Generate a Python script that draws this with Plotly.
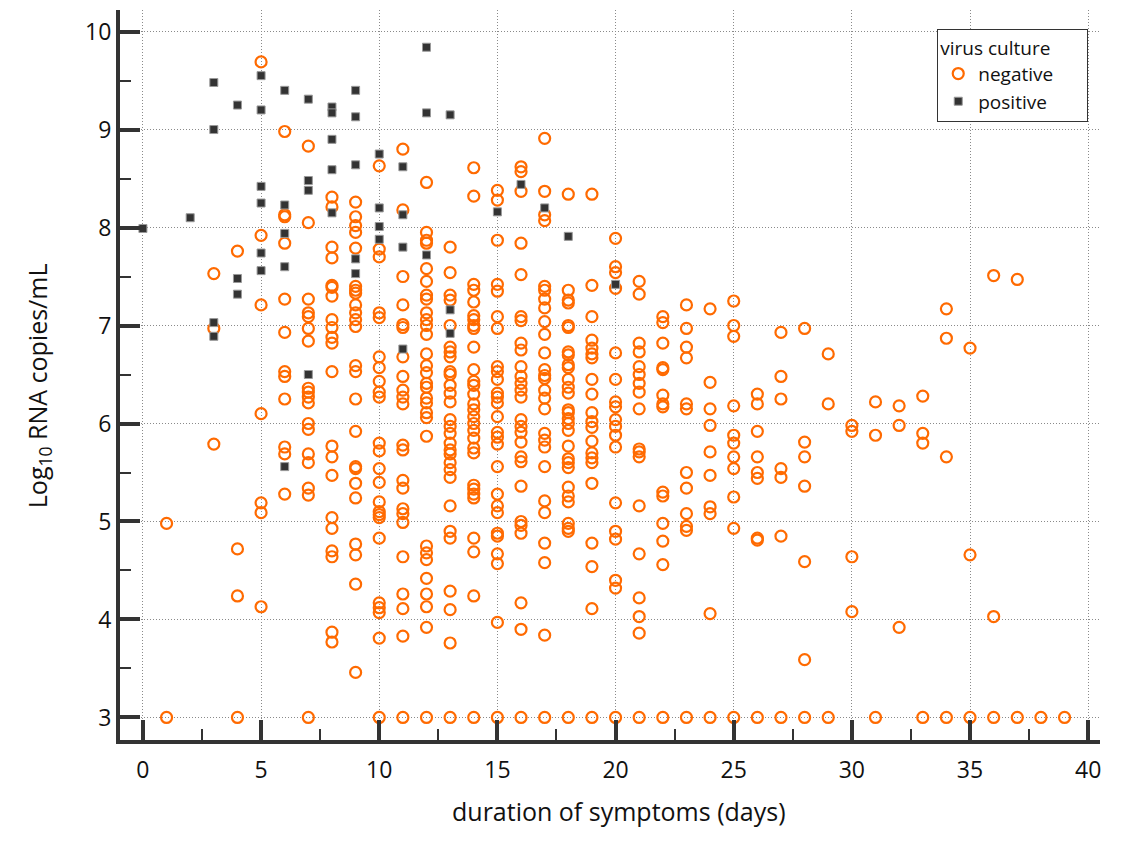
import plotly.graph_objects as go

# ---- data: negative virus culture (day, list of log10 RNA copies/mL) ----
neg_days = [1, 3, 4, 5, 6, 7, 8, 9, 10, 11, 12, 13, 14, 15, 16, 17, 18, 19, 20,
            21, 22, 23, 24, 25, 26, 27, 28, 29, 30, 31, 32, 33, 34, 35, 36, 37, 38, 39]
neg_values = [
    [4.98, 3.0],
    [7.53, 6.97, 5.79],
    [7.76, 4.72, 4.24, 3.0],
    [9.69, 7.92, 7.21, 6.10, 5.19, 5.09, 4.13],
    [8.98, 8.13, 8.11, 7.84, 7.27, 6.93, 6.53, 6.48, 6.25, 5.76, 5.69, 5.28],
    [8.83, 8.05, 7.27, 7.13, 7.09, 6.97, 6.84, 6.36, 6.32, 6.27, 6.21, 6.00, 5.94, 5.69, 5.60, 5.34, 5.27, 3.0],
    [8.31, 8.21, 7.80, 7.69, 7.41, 7.39, 7.30, 7.06, 6.98, 6.88, 6.82, 6.53, 5.77, 5.66, 5.47, 5.04, 4.93, 4.70, 4.64, 3.87, 3.77],
    [8.26, 8.11, 8.02, 7.95, 7.79, 7.40, 7.36, 7.33, 7.21, 7.13, 7.06, 6.99, 6.59, 6.53, 6.25, 5.92, 5.56, 5.54, 5.39, 5.24, 4.77, 4.66, 4.36, 3.46],
    [8.63, 7.78, 7.70, 7.13, 7.08, 6.68, 6.57, 6.43, 6.32, 6.27, 5.80, 5.72, 5.54, 5.40, 5.20, 5.10, 5.07, 5.04, 4.83, 4.17, 4.12, 4.07, 3.81, 3.0],
    [8.80, 8.18, 7.50, 7.21, 7.01, 6.98, 6.68, 6.48, 6.34, 6.27, 6.20, 5.78, 5.73, 5.42, 5.34, 5.13, 5.08, 4.99, 4.64, 4.26, 4.11, 3.83, 3.0],
    [8.46, 7.95, 7.87, 7.84, 7.58, 7.45, 7.31, 7.27, 7.13, 7.06, 7.00, 6.91, 6.71, 6.59, 6.52, 6.41, 6.37, 6.26, 6.21, 6.11, 6.06, 5.87, 4.75, 4.68, 4.61, 4.42, 4.26, 4.13, 3.92, 3.0],
    [7.80, 7.54, 7.31, 7.26, 7.00, 6.78, 6.73, 6.68, 6.53, 6.50, 6.39, 6.31, 6.22, 6.04, 5.97, 5.90, 5.80, 5.73, 5.69, 5.60, 5.53, 5.45, 5.16, 4.90, 4.83, 4.29, 4.10, 3.76, 3.0],
    [8.61, 8.32, 7.42, 7.36, 7.24, 7.10, 7.06, 7.00, 6.97, 6.78, 6.55, 6.43, 6.39, 6.30, 6.20, 6.14, 6.07, 6.00, 5.93, 5.85, 5.75, 5.70, 5.37, 5.33, 5.28, 5.24, 4.83, 4.69, 4.24, 3.0],
    [8.38, 8.28, 7.87, 7.42, 7.35, 7.09, 6.97, 6.58, 6.53, 6.45, 6.31, 6.27, 6.21, 6.07, 5.91, 5.86, 5.79, 5.56, 5.28, 5.16, 5.09, 4.88, 4.85, 4.67, 4.57, 3.97, 3.0],
    [8.62, 8.57, 8.37, 7.84, 7.52, 7.09, 7.05, 6.82, 6.75, 6.58, 6.48, 6.41, 6.34, 6.27, 6.04, 5.97, 5.91, 5.81, 5.66, 5.61, 5.36, 5.00, 4.96, 4.88, 4.17, 3.90, 3.0],
    [8.91, 8.37, 8.13, 8.07, 7.40, 7.36, 7.27, 7.18, 7.04, 6.91, 6.72, 6.55, 6.49, 6.46, 6.34, 6.26, 6.15, 5.90, 5.83, 5.76, 5.56, 5.21, 5.09, 4.78, 4.58, 3.84, 3.0],
    [8.34, 7.36, 7.26, 7.23, 7.00, 6.98, 6.73, 6.70, 6.60, 6.57, 6.45, 6.37, 6.31, 6.14, 6.11, 6.05, 6.00, 5.93, 5.77, 5.64, 5.60, 5.55, 5.35, 5.26, 5.20, 4.98, 4.93, 4.90, 3.0],
    [8.34, 7.41, 7.09, 6.85, 6.77, 6.71, 6.67, 6.45, 6.30, 6.11, 6.02, 5.96, 5.82, 5.70, 5.65, 5.60, 5.39, 4.78, 4.54, 4.11, 3.0],
    [7.89, 7.60, 7.54, 7.38, 6.72, 6.45, 6.22, 6.17, 6.04, 5.97, 5.88, 5.76, 5.19, 4.90, 4.82, 4.40, 4.32, 3.0],
    [7.45, 7.32, 6.82, 6.73, 6.58, 6.50, 6.41, 6.32, 6.15, 5.74, 5.71, 5.66, 5.16, 4.67, 4.22, 4.03, 3.86, 3.0],
    [7.09, 7.03, 6.82, 6.57, 6.55, 6.29, 6.20, 6.17, 5.30, 5.26, 4.98, 4.80, 4.56, 3.0],
    [7.21, 6.97, 6.78, 6.67, 6.20, 6.15, 5.50, 5.34, 5.08, 4.95, 4.91, 3.0],
    [7.17, 6.42, 6.15, 5.98, 5.71, 5.47, 5.15, 5.08, 4.06, 3.0],
    [7.25, 7.00, 6.89, 6.18, 5.88, 5.80, 5.66, 5.54, 5.25, 4.93, 3.0],
    [6.30, 6.20, 5.92, 5.66, 5.50, 5.44, 4.83, 4.81, 3.0],
    [6.93, 6.48, 6.25, 5.54, 5.45, 4.85, 3.0],
    [6.97, 5.81, 5.66, 5.36, 4.59, 3.59, 3.0],
    [6.71, 6.20, 3.0],
    [5.98, 5.92, 4.64, 4.08],
    [6.22, 5.88, 3.0],
    [6.18, 5.98, 3.92],
    [6.28, 5.90, 5.80, 3.0],
    [7.17, 6.87, 5.66, 3.0],
    [6.77, 4.66, 3.0],
    [7.51, 4.03, 3.0],
    [7.47, 3.0],
    [3.0],
    [3.0],
]

# ---- data: positive virus culture ----
pos_days = [0, 2, 3, 4, 5, 6, 7, 8, 9, 10, 11, 12, 13, 15, 16, 17, 18, 20]
pos_values = [
    [7.99],
    [8.10],
    [9.48, 9.00, 7.03, 6.89],
    [9.25, 7.48, 7.32],
    [9.55, 9.20, 8.42, 8.25, 7.74, 7.56],
    [9.40, 8.23, 7.94, 7.60, 5.56],
    [9.31, 8.48, 8.38, 6.50],
    [9.23, 9.17, 8.90, 8.59, 8.15],
    [9.40, 9.13, 8.64, 7.68, 7.53],
    [8.75, 8.20, 8.01, 7.88],
    [8.62, 8.13, 7.80, 6.76],
    [9.84, 9.17, 7.72],
    [9.15, 7.16, 6.92],
    [8.16],
    [8.44],
    [8.20],
    [7.91],
    [7.42],
]

x_title = "duration of symptoms (days)"
y_title = "Log<sub>10</sub> RNA copies/mL"
legend_title = "virus culture"
series_names = ["negative", "positive"]


def flatten(days, values):
    xs, ys = [], []
    for d, vals in zip(days, values):
        for v in vals:
            xs.append(d)
            ys.append(v)
    return xs, ys


nx, ny = flatten(neg_days, neg_values)
px_, py_ = flatten(pos_days, pos_values)

FONT = "Open Sans, Noto Sans, DejaVu Sans, sans-serif"
AXIS = "#333333"
TXT = "#111111"
GRID_DASH = "1px,2px"

fig = go.Figure()
fig.add_trace(go.Scatter(
    x=nx, y=ny, mode="markers", name=series_names[0],
    marker=dict(symbol="circle-open", size=11, color="#ff6a00",
                line=dict(width=2.2, color="#ff6a00")),
))
fig.add_trace(go.Scatter(
    x=px_, y=py_, mode="markers", name=series_names[1],
    marker=dict(symbol="square", size=8, color="#333333",
                line=dict(width=1, color="#999999")),
))

# page body has an 8px default margin, so the figure is drawn 8px smaller
fig.update_layout(
    width=1121, height=837,
    margin=dict(l=112, r=29, t=2, b=105, autoexpand=False),
    paper_bgcolor="white", plot_bgcolor="white",
    font=dict(family=FONT, color=TXT),
    showlegend=True,
    legend=dict(
        # trailing non-breaking spaces widen the box like the reference's
        title=dict(text=legend_title + "&nbsp;" * 7,
                   font=dict(size=19, family=FONT, color=TXT)),
        font=dict(size=19, family=FONT, color=TXT),
        x=0.988, y=0.974, xanchor="right", yanchor="top",
        bgcolor="white", bordercolor="#333333", borderwidth=1,
        itemwidth=30, tracegroupgap=0,
    ),
    annotations=[
        dict(text=x_title, xref="paper", yref="paper", x=0.509, y=-0.097,
             xanchor="center", yanchor="middle", showarrow=False,
             font=dict(size=25, family=FONT, color=TXT)),
        dict(text=y_title, xref="paper", yref="paper", x=-0.0837, y=0.486,
             xanchor="center", yanchor="middle", showarrow=False, textangle=-90,
             font=dict(size=25, family=FONT, color=TXT)),
    ],
)

fig.update_xaxes(
    range=[-0.97, 40.5], tick0=0, dtick=5, automargin=False,
    showline=True, linecolor=AXIS, linewidth=4,
    ticks="inside", ticklen=20, tickwidth=4, tickcolor=AXIS,
    minor=dict(dtick=2.5, tick0=0, ticks="inside", ticklen=11, tickwidth=2,
               tickcolor=AXIS, showgrid=False),
    showgrid=True, gridcolor="#8a8a8a", griddash=GRID_DASH, gridwidth=1,
    zeroline=False, ticklabelstandoff=6,
    tickfont=dict(size=23, family=FONT, color=TXT),
)
fig.update_yaxes(
    range=[2.77, 10.22], tick0=0, dtick=1, automargin=False,
    showline=True, linecolor=AXIS, linewidth=4,
    ticks="inside", ticklen=20, tickwidth=4, tickcolor=AXIS,
    minor=dict(dtick=0.5, tick0=0, ticks="inside", ticklen=11, tickwidth=2,
               tickcolor=AXIS, showgrid=False),
    showgrid=True, gridcolor="#8a8a8a", griddash=GRID_DASH, gridwidth=1,
    zeroline=False,
    tickfont=dict(size=23, family=FONT, color=TXT),
)

fig.write_html("out.html")
